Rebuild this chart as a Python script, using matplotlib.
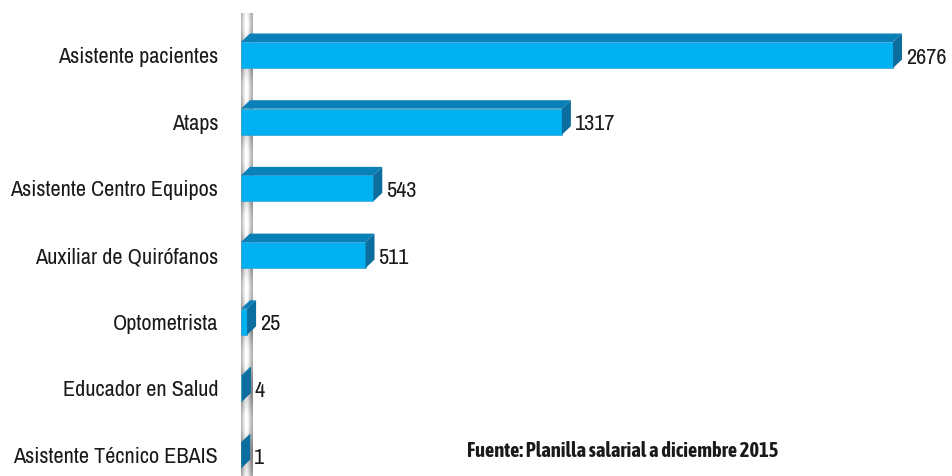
import numpy as np
import matplotlib
matplotlib.use('Agg')
import matplotlib.pyplot as plt
from matplotlib.patches import Polygon

# datos
categorias = ["Asistente pacientes", "Ataps", "Asistente Centro Equipos",
              "Auxiliar de Quirófanos", "Optometrista", "Educador en Salud",
              "Asistente Técnico EBAIS"]
valores = [2676, 1317, 543, 511, 25, 4, 1]
fuente = "Fuente: Planilla salarial a diciembre 2015"

plt.rcParams['font.family'] = ['Archivo Narrow', 'Liberation Sans', 'DejaVu Sans']

W, H = 953, 476
fig = plt.figure(figsize=(W / 100, H / 100), dpi=100)
x0_px = 241
ax = fig.add_axes([x0_px / W, 0, 1 - x0_px / W, 1])

px_per_unit = (893 - 241) / 2676.0
row_px = 66.7
xmax = (W - x0_px) / px_per_unit
ax.set_xlim(0, xmax)
ax.set_ylim((H - 55) / row_px, -55 / row_px)

# profundidad 3D (en unidades de datos)
dx = 9 / px_per_unit
dy = 8.5 / row_px
alto = 26 / row_px

frente = '#00B0F0'
arriba = '#0A80B8'
lado = '#0B6E9E'

# pared gris a la izquierda
yy = np.linspace(-0.65, 7, 400)
xx = np.linspace(0, 1, 30)
fase = ((yy[:, None] + 0.5) % 1.0)
grad = 0.6 + 0.33 * np.sin(np.pi * xx[None, :]) ** 2 + 0.1 * np.cos(2 * np.pi * fase)
grad = np.clip(grad, 0, 1)
ax.imshow(grad, cmap='gray', vmin=0, vmax=1, aspect='auto',
          extent=[-1 / px_per_unit, 12 / px_per_unit, 7, -0.62],
          zorder=1, interpolation='bilinear')
ax.plot([-3 / px_per_unit] * 2, [-0.55, 7], color='#d0d0d0', lw=0.8, zorder=1)

for i, v in enumerate(valores):
    yc = i
    ytop = yc - alto / 2
    ybot = yc + alto / 2
    ax.barh(yc, v, height=alto, color=frente, edgecolor='#3a9fd0',
            linewidth=0.5, zorder=3)
    ax.add_patch(Polygon([(0, ytop), (v, ytop), (v + dx, ytop - dy), (dx, ytop - dy)],
                         closed=True, facecolor=arriba, edgecolor='none', zorder=3))
    ax.add_patch(Polygon([(v, ytop), (v + dx, ytop - dy), (v + dx, ybot - dy), (v, ybot)],
                         closed=True, facecolor=lado, edgecolor='none', zorder=3))
    ax.text(v + dx + 4 / px_per_unit, yc + 0.04, str(v), ha='left', va='center',
            fontsize=16, color='#1a1a1a', zorder=4)

ax.set_yticks(range(len(categorias)))
ax.set_yticklabels(categorias, fontsize=16, color='#1a1a1a')
ax.tick_params(axis='y', length=0, pad=16.5)
ax.set_xticks([])
for s in ax.spines.values():
    s.set_visible(False)

fig.text(623 / W, 1 - 451 / H, fuente, ha='center', va='center',
         fontsize=14.7, fontweight='bold', color='#1a1a1a',
         family=['Asap Condensed', 'DejaVu Sans'])

fig.savefig('out.png', dpi=100)
